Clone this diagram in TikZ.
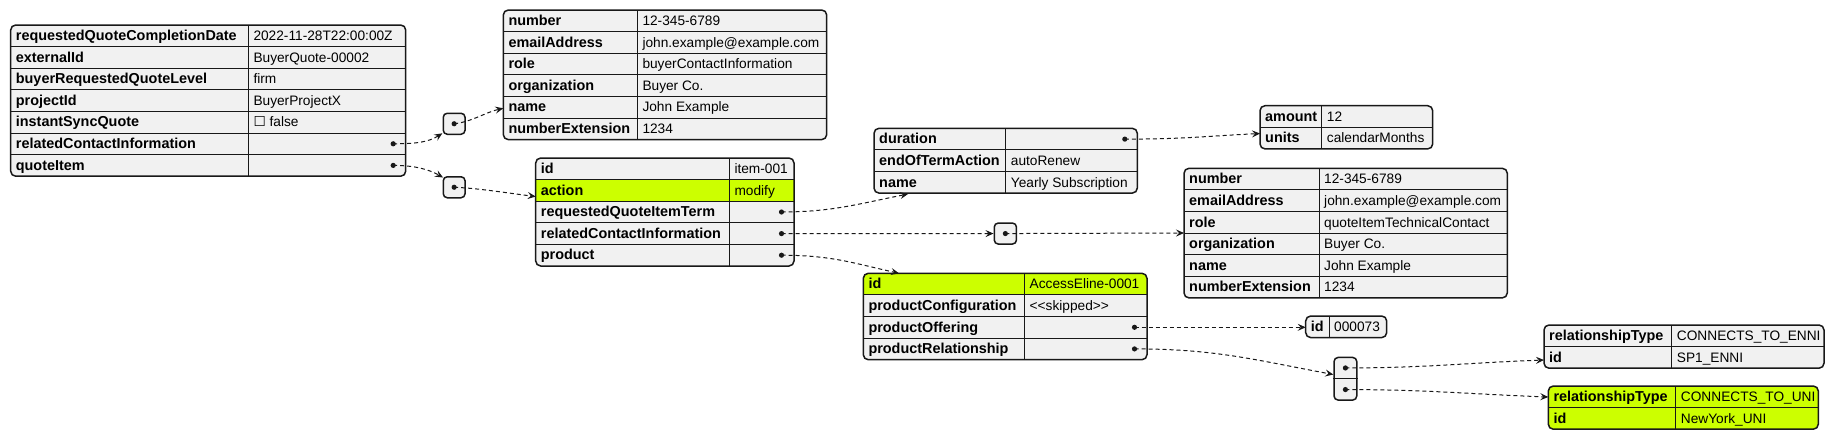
\documentclass[tikz,border=0pt]{standalone}
\usepackage{fontspec}
\setmainfont{Liberation Sans}
\newfontfamily\symfont{DejaVu Sans}
\usetikzlibrary{arrows.meta,fit,calc}
\definecolor{boxfill}{HTML}{F1F1F1}
\definecolor{ink}{HTML}{181818}
\definecolor{hl}{HTML}{CCFF00}
\tikzset{
 keytxt/.style={anchor=base west, inner sep=0pt, font=\fontsize{14.4}{16}\selectfont\bfseries, text=black},
 valtxt/.style={anchor=base west, inner sep=0pt, font=\fontsize{13.7}{16}\selectfont, text=black},
 border/.style={draw=ink, line width=1.5pt, rounded corners=5pt},
 rowline/.style={draw=ink, line width=1pt},
 conn/.style={draw=ink, line width=1pt, dash pattern=on 4pt off 3pt, -{Stealth[length=8pt,width=7pt,inset=3pt]}},
 sbox/.style={draw=ink, fill=boxfill, line width=1.5pt, rounded corners=4pt, inner sep=0pt, anchor=north west},
 dotc/.style={fill=ink},
}
\newcommand{\rh}{21.6}
% name, x, y, divider x, right x, rows, highlighted rows, key/value list
\newcommand{\jtab}[8]{%
 \pgfmathsetmacro{\jbot}{#3+#6*\rh}
 \fill[boxfill, rounded corners=5pt] (#2,#3) rectangle (#5,\jbot);
 \begin{scope}
  \clip[rounded corners=5pt] (#2,#3) rectangle (#5,\jbot);
  \foreach \h in {#7}{\ifnum\h>0 \fill[hl] (#2,{#3+(\h-1)*\rh}) rectangle (#5,{#3+\h*\rh});\fi}
 \end{scope}
 \pgfmathtruncatemacro{\jn}{#6-1}
 \ifnum\jn>0
  \foreach \i in {1,...,\jn}{\draw[rowline] (#2,{#3+\i*\rh}) -- (#5,{#3+\i*\rh});}
 \fi
 \draw[rowline] (#4,#3) -- (#4,\jbot);
 \draw[border] (#2,#3) rectangle (#5,\jbot);
 \node[inner sep=0pt, fit={(#2,#3) (#5,\jbot)}] (#1) {};
 \foreach [count=\i] \k/\v in {#8}{%
  \node[keytxt] (#1-k\i) at ({#2+5},{#3+(\i-1)*\rh+15.5}) {\k};
  \node[valtxt] (#1-v\i) at ({#4+5},{#3+(\i-1)*\rh+15.5}) {\v};
 }
}
\begin{document}
\begin{tikzpicture}[x=1pt,y=-1pt]
\fill[white] (0,0) rectangle (1834,440);
\useasboundingbox (0,0) rectangle (1834,440);

% tables
\jtab{quote}{10.7}{25}{248.3}{405.7}{7}{0}{requestedQuoteCompletionDate/2022-11-28T22:00:00Z, externalId/BuyerQuote-00002, buyerRequestedQuoteLevel/firm, projectId/BuyerProjectX, instantSyncQuote/{{\symfont ☐} false}, relatedContactInformation/{}, quoteItem/{}}
\jtab{buyer}{503.3}{10}{637.3}{826.7}{6}{0}{number/12-345-6789, emailAddress/john.example@example.com, role/buyerContactInformation, organization/Buyer Co., name/John Example, numberExtension/1234}
\jtab{item}{535.7}{158}{729.3}{794}{5}{2}{id/item-001, action/modify, requestedQuoteItemTerm/{}, relatedContactInformation/{}, product/{}}
\jtab{term}{874}{128.3}{1005.7}{1137.3}{3}{0}{duration/{}, endOfTermAction/autoRenew, name/Yearly Subscription}
\jtab{dur}{1260}{105.7}{1321.7}{1432.7}{2}{0}{amount/12, units/calendarMonths}
\jtab{tech}{1184}{168.3}{1319}{1507.3}{6}{0}{number/12-345-6789, emailAddress/john.example@example.com, role/quoteItemTechnicalContact, organization/Buyer Co., name/John Example, numberExtension/1234}
\jtab{prod}{863.3}{273.3}{1024.5}{1147}{4}{1}{id/AccessEline-0001, productConfiguration/{<\kern0pt<skipped>\kern0pt>}, productOffering/{}, productRelationship/{}}
\jtab{offer}{1305.7}{316}{1329}{1386.7}{1}{0}{id/000073}
\jtab{enni}{1544}{325}{1671.7}{1824}{2}{0}{relationshipType/CONNECTS\_TO\_ENNI, id/SP1\_ENNI}
\jtab{uni}{1548.3}{386}{1675.7}{1818.3}{2}{1,2}{relationshipType/CONNECTS\_TO\_UNI, id/NewYork\_UNI}

% small array boxes
\node[sbox, minimum width=21.8pt, minimum height=21pt] (b1) at (442.5,112.5) {};
\node[sbox, minimum width=21.8pt, minimum height=21pt] (b2) at (442.5,176) {};
\node[sbox, minimum width=22.2pt, minimum height=21pt] (b3) at (993.5,222.3) {};
\node[sbox, minimum width=22.7pt, minimum height=42.6pt] (b4) at (1333.3,356.7) {};
\draw[rowline] (b4.west) -- (b4.east);
\coordinate (b4d1) at ($(b4.center)+(0,-10.8)$);
\coordinate (b4d2) at ($(b4.center)+(0,10.8)$);

% dots in tables
\coordinate (qd6) at (393.2,143.8);
\coordinate (qd7) at (393.2,165.4);
\coordinate (id3) at (781.5,212);
\coordinate (id4) at (781.5,233.6);
\coordinate (id5) at (781.5,255.2);
\coordinate (td1) at (1124.8,139.1);
\coordinate (pd3) at (1134.5,327.3);
\coordinate (pd4) at (1134.5,348.9);

% arrow tips
\coordinate (t1) at (442.3,133.3);
\coordinate (t2) at (443,177.5);
\coordinate (t3) at (503.3,108.3);
\coordinate (t4) at (535.7,196.5);
\coordinate (t5) at (908,194);
\coordinate (t7) at (1184,233);
\coordinate (t8) at (899,273.3);
\coordinate (t9) at (1260,133.5);
\coordinate (t10) at (1305.7,327.3);
\coordinate (t11) at (1333.3,374.5);
\coordinate (t12) at (1544,360);
\coordinate (t13) at (1548.3,397);

% connectors
\draw[conn] (qd6) .. controls ($(qd6)+(22,0)$) and ($(t1)+(-14,9)$) .. (t1);
\draw[conn] (qd7) .. controls ($(qd7)+(22,0)$) and ($(t2)+(-14,-8)$) .. (t2);
\draw[conn] (b1.center) .. controls ($(b1.center)+(18,-2)$) and ($(t3)+(-18,4)$) .. (t3);
\draw[conn] (b2.center) .. controls ($(b2.center)+(25,1)$) and ($(t4)+(-25,-3)$) .. (t4);
\draw[conn] (id3) .. controls ($(id3)+(50,0)$) and ($(t5)+(-50,10)$) .. (t5);
\draw[conn] (id4) -- (b3.west);
\draw[conn] (b3.center) -- (t7);
\draw[conn] (id5) .. controls ($(id5)+(50,0)$) and ($(t8)+(-45,-10)$) .. (t8);
\draw[conn] (td1) .. controls ($(td1)+(60,0)$) and ($(t9)+(-60,3)$) .. (t9);
\draw[conn] (pd3) -- (t10);
\draw[conn] (pd4) .. controls ($(pd4)+(80,0)$) and ($(t11)+(-80,-15)$) .. (t11);
\draw[conn] (b4d1) .. controls ($(b4d1)+(80,0)$) and ($(t12)+(-80,3)$) .. (t12);
\draw[conn] (b4d2) .. controls ($(b4d2)+(80,0)$) and ($(t13)+(-80,-3)$) .. (t13);

% dots
\foreach \d in {qd6,qd7,id3,id4,id5,td1,pd3,pd4,b1.center,b2.center,b3.center,b4d1,b4d2}{\fill[dotc] (\d) circle (2.6pt);}
\end{tikzpicture}
\end{document}
